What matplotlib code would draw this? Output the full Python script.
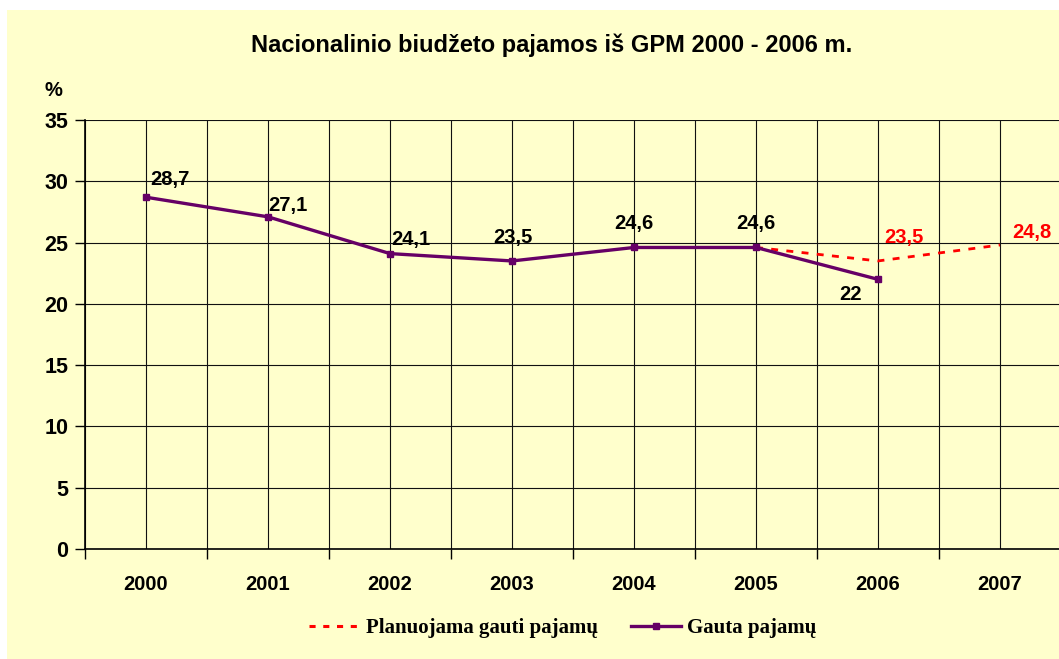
import numpy as np
import matplotlib
matplotlib.use("Agg")
import matplotlib.pyplot as plt
from matplotlib.patches import Rectangle
from matplotlib.lines import Line2D

# data
years = ["2000", "2001", "2002", "2003", "2004", "2005", "2006", "2007"]
gauta = [28.7, 27.1, 24.1, 23.5, 24.6, 24.6, 22.0]
plan_idx = [5, 6, 7]
plan = [24.6, 23.5, 24.8]
gauta_lbl = ["28,7", "27,1", "24,1", "23,5", "24,6", "24,6", "22"]
plan_lbl = ["23,5", "24,8"]

BG = "#FFFFCC"
PURPLE = "#660066"
RED = "#FF0000"
W, H = 1059, 659

fig = plt.figure(figsize=(W / 100, H / 100), dpi=100)
fig.patch.set_facecolor("white")
fig.patches.append(Rectangle((7 / W, 0), 1 - 7 / W, 1 - 10 / H,
                             transform=fig.transFigure, facecolor=BG,
                             edgecolor="none", zorder=-10))

# plot area: x 85..1061 px, y 120..549 px
ax = fig.add_axes([85 / W, (H - 549) / H, 976 / W, 429 / H])
ax.set_facecolor(BG)

x = np.arange(len(years))
ax.set_xlim(-0.5, len(years) - 0.5)
ax.set_ylim(0, 35)

ax.set_yticks(np.arange(0, 36, 5))
ax.set_xticks(np.arange(-0.5, len(years), 1.0))
ax.set_xticklabels([])
ax.set_xticks(x, minor=True)
ax.set_xticklabels(years, minor=True)

ax.grid(True, which="major", axis="both", color="#111111", linewidth=0.8)
ax.grid(True, which="minor", axis="x", color="#111111", linewidth=0.8)
ax.set_axisbelow(True)

ax.tick_params(axis="y", which="major", direction="out", length=7, width=1,
               labelsize=15.5, pad=5)
ax.tick_params(axis="x", which="major", direction="out", length=7, width=1)
ax.tick_params(axis="x", which="minor", length=0, labelsize=14.5, pad=19)
for lab in ax.get_yticklabels() + ax.get_xticklabels(minor=True):
    lab.set_fontweight("bold")
    lab.set_family("Liberation Sans")

for s in ["top", "right"]:
    ax.spines[s].set_visible(False)
for s in ["left", "bottom"]:
    ax.spines[s].set_linewidth(1.2)

ax.plot(plan_idx, plan, color=RED, linewidth=2, dashes=(2.5, 3), zorder=3)
ax.plot(x[:len(gauta)], gauta, color=PURPLE, linewidth=2.4, marker="s",
        markersize=5, zorder=4)

lbl_font = dict(fontsize=14.5, fontweight="bold", family="Liberation Sans")
g_off = [(17, 13), (14, 8), (15, 10), (1, 17), (0, 17), (0, 17), (-20, -11)]
for i, (v, t, o) in enumerate(zip(gauta, gauta_lbl, g_off)):
    ax.annotate(t, (i, v), xytext=o, textcoords="offset points",
                ha="center", va="center", color="black", **lbl_font)
p_off = [(19, 17), (23, 9)]
for i, v, t, o in zip(plan_idx[1:], plan[1:], plan_lbl, p_off):
    ax.annotate(t, (i, v), xytext=o, textcoords="offset points",
                ha="center", va="center", color=RED, **lbl_font)

fig.text(552 / W, 1 - 45 / H, "Nacionalinio biudžeto pajamos iš GPM 2000 - 2006 m.",
         ha="center", va="center", fontsize=17, fontweight="bold",
         family="Liberation Sans")
fig.text(53 / W, 1 - 90 / H, "%", ha="center", va="center", fontsize=14.5,
         fontweight="bold", family="Liberation Sans")

handles = [Line2D([], [], color=RED, linewidth=2.2, dashes=(2, 2.5)),
           Line2D([], [], color=PURPLE, linewidth=2.4, marker="s", markersize=5)]
leg = fig.legend(handles, ["Planuojama gauti pajamų", "Gauta pajamų"],
                 loc="center", bbox_to_anchor=(563 / W, 1 - 628 / H), ncol=2,
                 frameon=False, handlelength=2.4, handletextpad=0.3,
                 columnspacing=1.6,
                 prop=dict(family="Liberation Serif", weight="bold", size=15))

fig.savefig("out.png", dpi=100, facecolor=fig.get_facecolor())
